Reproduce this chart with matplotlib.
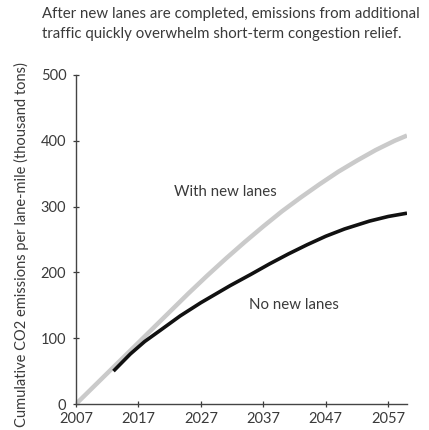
import matplotlib
matplotlib.use("Agg")
import matplotlib.pyplot as plt

years_with = [2007, 2010, 2013, 2016, 2019, 2022, 2025, 2028, 2031, 2034, 2037,
              2040, 2043, 2046, 2049, 2052, 2055, 2058, 2060]
with_lanes = [0, 28, 56, 84, 112, 140, 168, 195, 221, 246, 270,
              293, 314, 334, 353, 370, 386, 400, 408]

years_no = [2013.0, 2015.7, 2018, 2020.5, 2023.7, 2027, 2031.7, 2035, 2038, 2041,
            2044, 2047, 2050, 2054, 2057, 2060]
no_lanes = [50, 76, 95, 112, 134, 154, 180, 197, 213, 228,
            242, 255, 266, 278, 285, 290]

xticks = [2007, 2017, 2027, 2037, 2047, 2057]
yticks = [0, 100, 200, 300, 400, 500]

title_lines = ["After new lanes are completed, emissions from additional",
               "traffic quickly overwhelm short-term congestion relief."]
ylabel = "Cumulative CO2 emissions per lane-mile (thousand tons)"
label_with = "With new lanes"
label_no = "No new lanes"

plt.rcParams['font.family'] = ['Lato', 'DejaVu Sans']
txt = '#3a3a3a'

fig = plt.figure(figsize=(4.29, 4.30), dpi=100)
ax = fig.add_axes([76/429, 1-404/430, (407-76)/429, (404-75)/430])

ax.plot(years_with, with_lanes, color='#cacaca', lw=3.2, solid_capstyle='butt',
        solid_joinstyle='round')
ax.plot(years_no, no_lanes, color='#111111', lw=2.6, solid_capstyle='butt',
        solid_joinstyle='round')

ax.set_xlim(2007, 2060)
ax.set_ylim(0, 500)
ax.set_xticks(xticks)
ax.set_yticks(yticks)
ax.tick_params(axis='both', labelsize=10.5, colors=txt, length=4, width=0.9, direction='inout')
ax.tick_params(axis='x', pad=4)
ax.tick_params(axis='y', pad=5)
for s in ['top', 'right']:
    ax.spines[s].set_visible(False)
for s in ['left', 'bottom']:
    ax.spines[s].set_color('#444444')
    ax.spines[s].set_linewidth(1.0)

ax.text(2030.9, 322, label_with, fontsize=10.8, color=txt, ha='center', va='center')
ax.text(2041.9, 150, label_no, fontsize=10.8, color=txt, ha='center', va='center')

fig.text(21/429, 1-245/430, ylabel, rotation=90, fontsize=10.5, color=txt, ha='center', va='center')
fig.text(42/429, 1-14/430, title_lines[0], fontsize=10.8, color=txt, ha='left', va='center')
fig.text(42/429, 1-34/430, title_lines[1], fontsize=10.8, color=txt, ha='left', va='center')

fig.savefig("out.png", dpi=100, facecolor='white')
